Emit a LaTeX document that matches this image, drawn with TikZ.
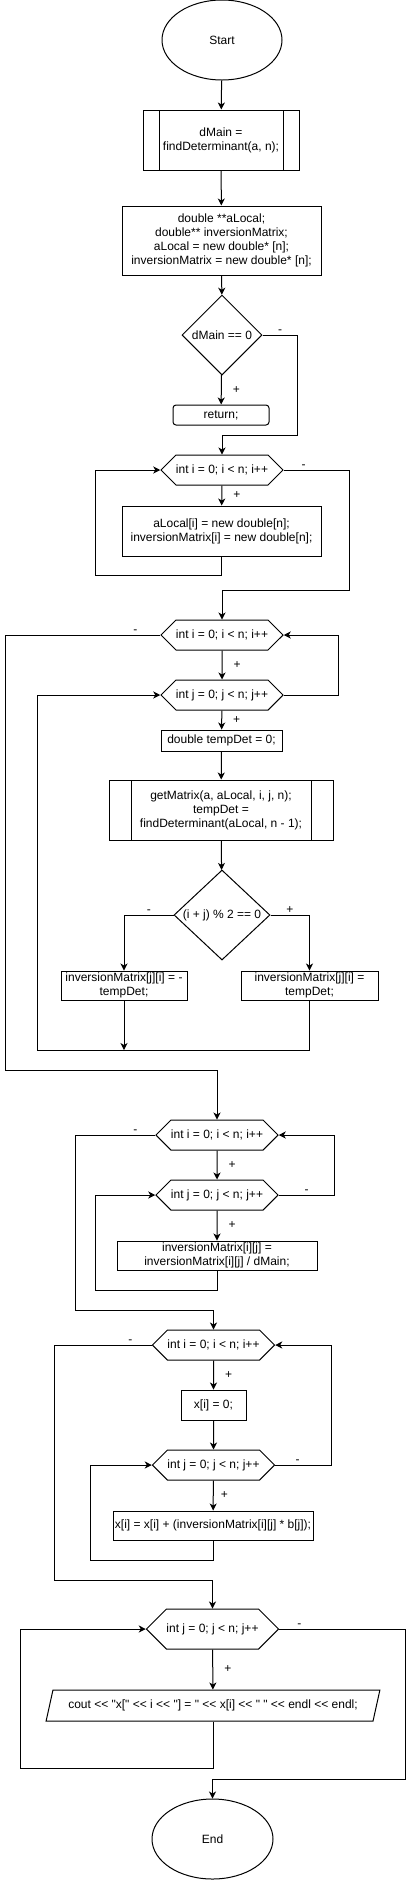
\documentclass[tikz,border=0pt]{standalone}
\usepackage{fontspec}
\setmainfont{Liberation Sans}[Ligatures=TeXOff]
\usetikzlibrary{shapes.geometric,shapes.symbols,arrows.meta}

\begin{document}
\begin{tikzpicture}[x=1pt,y=-1pt,
  every node/.style={font=\fontsize{12pt}{14pt}\selectfont, align=center},
  term/.style={draw, line width=1pt, ellipse, minimum width=120pt, minimum height=80pt, inner sep=0pt},
  proc/.style={draw, line width=1pt, rectangle, inner sep=0pt},
  subproc/.style={proc, path picture={
    \draw [line width=1pt] ([xshift=#1]path picture bounding box.north west) -- ([xshift=#1]path picture bounding box.south west);
    \draw [line width=1pt] ([xshift=-#1]path picture bounding box.north east) -- ([xshift=-#1]path picture bounding box.south east);}},
  cond/.style={draw, line width=1pt, diamond, inner sep=0pt},
  loopbox/.style={draw, line width=1pt, signal, signal to=east and west, signal pointer angle=90,
    minimum width=120pt, minimum height=30pt, inner sep=0pt},
  iobox/.style={draw, line width=1pt, trapezium, trapezium left angle=61, trapezium right angle=119,
    trapezium stretches=true, minimum width=334pt, minimum height=31pt, inner sep=0pt},
  arr/.style={line width=1pt, -{Stealth[length=7pt,width=7pt,inset=2pt]}},
  ln/.style={line width=1pt},
  lbl/.style={font=\fontsize{12pt}{14pt}\selectfont, inner sep=1pt}]
\useasboundingbox (0,0) rectangle (407,1880);

\node [term] (start) at (222,40) {Start};
\node [subproc=16pt, minimum width=156pt, minimum height=60pt] (det1) at (221,140) {dMain =\\findDeterminant(a, n);};
\node [proc, minimum width=199pt, minimum height=69pt] (init) at (221.5,240.5) {double **aLocal;\\double** inversionMatrix;\\aLocal = new double* [n];\\inversionMatrix = new double* [n];};
\node [cond, minimum width=80pt, minimum height=80pt] (cond1) at (222,335) {dMain == 0};
\node [proc, rounded corners=3pt, minimum width=96pt, minimum height=20pt] (ret) at (221,415) {return;};
\node [loopbox] (loop1) at (222,470) {int i = 0; i < n; i++};
\node [proc, minimum width=199pt, minimum height=50pt] (alloc) at (221.5,531) {aLocal[i] = new double[n];\\inversionMatrix[i] = new double[n];};

\node [loopbox] (loop2) at (222,635) {int i = 0; i < n; i++};
\node [loopbox] (loop3) at (222,695) {int j = 0; j < n; j++};
\node [proc, minimum width=121pt, minimum height=21pt] (tmp) at (221.5,740.5) {double tempDet = 0;};
\node [subproc=22pt, minimum width=224pt, minimum height=60pt] (det2) at (221,810) {getMatrix(a, aLocal, i, j, n);\\tempDet =\\findDeterminant(aLocal, n - 1);};
\node [cond, minimum width=96pt, minimum height=90pt] (cond2) at (222,915) {(i + j) \% 2 == 0};
\node [proc, minimum width=126pt, minimum height=29pt] (neg) at (124,985.5) {inversionMatrix[j][i] = -\\tempDet;};
\node [proc, minimum width=137pt, minimum height=29pt] (pos) at (309.5,985.5) {inversionMatrix[j][i] =\\tempDet;};
\coordinate (join) at (124,1050);

\node [loopbox] (loop4) at (217,1135) {int i = 0; i < n; i++};
\node [loopbox] (loop5) at (217,1195) {int j = 0; j < n; j++};
\node [proc, minimum width=200pt, minimum height=29pt] (div) at (217,1255.5) {inversionMatrix[i][j] =\\inversionMatrix[i][j] / dMain;};

\node [loopbox] (loop6) at (213.5,1345) {int i = 0; i < n; i++};
\node [proc, minimum width=65pt, minimum height=30pt] (zero) at (213.5,1405) {x[i] = 0;};
\node [loopbox] (loop7) at (213.5,1465) {int j = 0; j < n; j++};
\node [proc, minimum width=200pt, minimum height=29pt] (sum) at (213,1525.5) {x[i] = x[i] + (inversionMatrix[i][j] * b[j]);};

\node [loopbox, minimum width=119pt, minimum height=40pt] (loop8) at (212.5,1629) {int j = 0; j < n; j++};
\node [iobox] (out) at (213,1705.5) {cout << "x[" << i << "] = " << x[i] << " " << endl << endl;};
\node [term, minimum width=121pt] (end) at (212.5,1839) {End};

\draw [arr] (start) -- (det1);
\draw [arr] (det1) -- (init);
\draw [arr] (init) -- (cond1);
\draw [arr] (cond1) -- node [lbl, right=10pt] {+} (ret);
\draw [arr] (cond1.east) -- node [lbl, above] {-} ++(35,0) -- ++(0,100) -| (loop1.north);
\draw [arr] (loop1) -- node [lbl, right=10pt] {+} (alloc);
\draw [arr] (alloc.south) -- ++(0,19) -| ([xshift=-65pt]loop1.west) -- (loop1.west);
\draw [arr] (loop1.east) -- node [lbl, above, pos=0.3] {-} ++(66,0) -- ++(0,120) -| (loop2.north);

\draw [arr] (loop2) -- node [lbl, right=10pt] {+} (loop3);
\draw [arr] (loop3) -- node [lbl, right=10pt] {+} (tmp);
\draw [arr] (tmp) -- (det2);
\draw [arr] (det2) -- (cond2);
\draw [arr] (cond2.west) -| node [lbl, above, pos=0.25] {-} (neg.north);
\draw [arr] (cond2.east) -| node [lbl, above, pos=0.25] {+} (pos.north);
\draw [arr] (neg.south) -- (join);
\draw [arr] (pos.south) |- (join) -- ++(-87,0) |- (loop3.west);
\draw [arr] (loop3.east) -- ++(55,0) |- (loop2.east);
\draw [arr] (loop2.west) -- node [lbl, above, pos=0.16] {-} ++(-155,0) -- ++(0,435) -| (loop4.north);

\draw [arr] (loop4) -- node [lbl, right=10pt] {+} (loop5);
\draw [arr] (loop5) -- node [lbl, right=10pt] {+} (div);
\draw [arr] (div.south) -- ++(0,20) -| ([xshift=-60pt]loop5.west) -- (loop5.west);
\draw [arr] (loop5.east) -- node [lbl, above] {-} ++(56,0) |- (loop4.east);
\draw [arr] (loop4.west) -- node [lbl, above, pos=0.25] {-} ++(-80,0) -- ++(0,175) -| (loop6.north);

\draw [arr] (loop6) -- node [lbl, right=10pt] {+} (zero);
\draw [arr] (zero) -- (loop7);
\draw [arr] (loop7) -- node [lbl, right=6pt] {+} (sum);
\draw [arr] (sum.south) -- ++(0,20) -| ([xshift=-61pt]loop7.west) -- (loop7.west);
\draw [arr] (loop7.east) -- node [lbl, above, pos=0.4] {-} ++(56,0) |- (loop6.east);
\draw [arr] (loop6.west) -- node [lbl, above, pos=0.22] {-} ++(-97,0) -- ++(0,235) -| (loop8.north);

\draw [arr] (loop8) -- node [lbl, right=10pt] {+} (out);
\draw [arr] (out.south) -- ++(0,47) -| ([xshift=-125pt]loop8.west) -- (loop8.west);
\draw [arr] (loop8.east) -- node [lbl, above, pos=0.16] {-} ++(126,0) -- ++(0,150) -| (end.north);
\end{tikzpicture}
\end{document}
